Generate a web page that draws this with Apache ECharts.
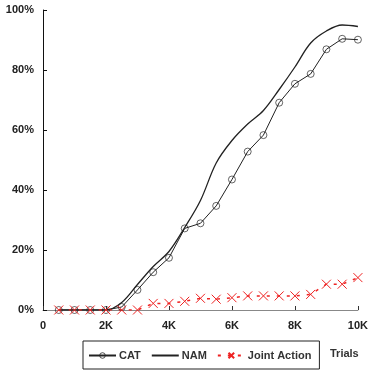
<!DOCTYPE html>
<html>
<head>
  <meta charset="utf-8">
  <style>
    html, body { margin: 0; padding: 0; width: 100%; height: 100%; background: #fff; }
  </style>
  <script src="https://cdn.jsdelivr.net/npm/echarts@6/dist/echarts.min.js"></script>
</head>
<body>
  <div id="container" style="width: 371px; height: 372px;"></div>
  <script>
    // trials (x) and success rate (%) per series
    var trials = [500, 1000, 1500, 2000, 2500, 3000, 3500, 4000, 4500, 5000,
                  5500, 6000, 6500, 7000, 7500, 8000, 8500, 9000, 9500, 10000];
    var cat = [0, 0, 0, 0, 1, 6.7, 12.6, 17.4, 27.2, 28.9,
               34.7, 43.5, 52.8, 58.3, 69.1, 75.4, 78.7, 86.9, 90.4, 90.1];
    var nam = [0, 0, 0, 0, 2.5, 8.5, 14.5, 19.5, 27.5, 36.5,
               49, 56.5, 62, 66.5, 73.5, 81, 89, 93, 95, 94.5];
    var joint = [0, 0, 0, 0, 0, 0, 2.2, 2.2, 2.9, 3.9,
                 3.6, 4.1, 4.7, 4.7, 4.7, 4.7, 5.2, 8.6, 8.6, 10.8];
    var yTicks = [0, 20, 40, 60, 80, 100];

    function pairs(ys) {
      return trials.map(function (t, i) { return [t, ys[i]]; });
    }

    var font = 'Liberation Sans, Arial, sans-serif';
    var red = '#ee2222';

    var chart = echarts.init(document.getElementById('container'), null, { renderer: 'canvas' });

    var option = {
      animation: false,
      grid: { left: 43, right: 10, top: 10, bottom: 62 },
      xAxis: {
        type: 'value',
        min: 0,
        max: 10000,
        interval: 2000,
        axisLine: { lineStyle: { color: '#888', width: 1 } },
        axisTick: { inside: true, length: 4, lineStyle: { color: '#333' } },
        splitLine: { show: false },
        axisLabel: {
          margin: 10,
          color: '#222',
          fontFamily: font,
          fontWeight: 'bold',
          fontSize: 11,
          formatter: function (v) { return v === 0 ? '0' : (v / 1000) + 'K'; }
        }
      },
      yAxis: {
        type: 'value',
        min: yTicks[0],
        max: yTicks[yTicks.length - 1],
        interval: 20,
        axisLine: { show: true, lineStyle: { color: '#111', width: 1 } },
        axisTick: { show: true, inside: true, length: 4, lineStyle: { color: '#111' } },
        splitLine: { show: false },
        axisLabel: {
          margin: 9,
          color: '#222',
          fontFamily: font,
          fontWeight: 'bold',
          fontSize: 11,
          formatter: '{value}%'
        }
      },
      legend: {
        left: 83,
        top: 341,
        width: 232,
        height: 30,
        padding: [9, 8, 8, 5],
        borderColor: '#222',
        borderWidth: 1,
        itemWidth: 27,
        itemHeight: 7,
        itemGap: 10,
        textStyle: { fontFamily: font, fontWeight: 'bold', fontSize: 11, color: '#333', padding: [0, 0, 0, -2] },
        data: [
          { name: 'CAT', itemStyle: { color: 'none', borderColor: '#222', borderWidth: 0.8 } },
          { name: 'NAM', itemStyle: { opacity: 0 } },
          'Joint Action'
        ]
      },
      graphic: [{
        type: 'text',
        left: 330,
        top: 348,
        style: { text: 'Trials', font: 'bold 11px ' + font, fill: '#333' }
      }],
      series: [
        {
          name: 'CAT',
          type: 'line',
          data: pairs(cat),
          symbol: 'circle',
          symbolSize: 7,
          lineStyle: { color: '#222', width: 1 },
          itemStyle: { color: 'none', borderColor: '#222', borderWidth: 0.7 }
        },
        {
          name: 'NAM',
          type: 'line',
          data: pairs(nam),
          smooth: 0.35,
          showSymbol: false,
          symbol: 'circle',
          lineStyle: { color: '#222', width: 1.3 },
          itemStyle: { color: '#222' }
        },
        {
          name: 'Joint Action',
          type: 'line',
          data: pairs(joint),
          symbol: 'path://M0,0L10,10M10,0L0,10',
          symbolSize: 9,
          lineStyle: { color: red, width: 1.5, type: [3, 7] },
          itemStyle: { color: 'none', borderColor: red, borderWidth: 1 }
        }
      ]
    };

    chart.setOption(option);
  </script>
</body>
</html>
